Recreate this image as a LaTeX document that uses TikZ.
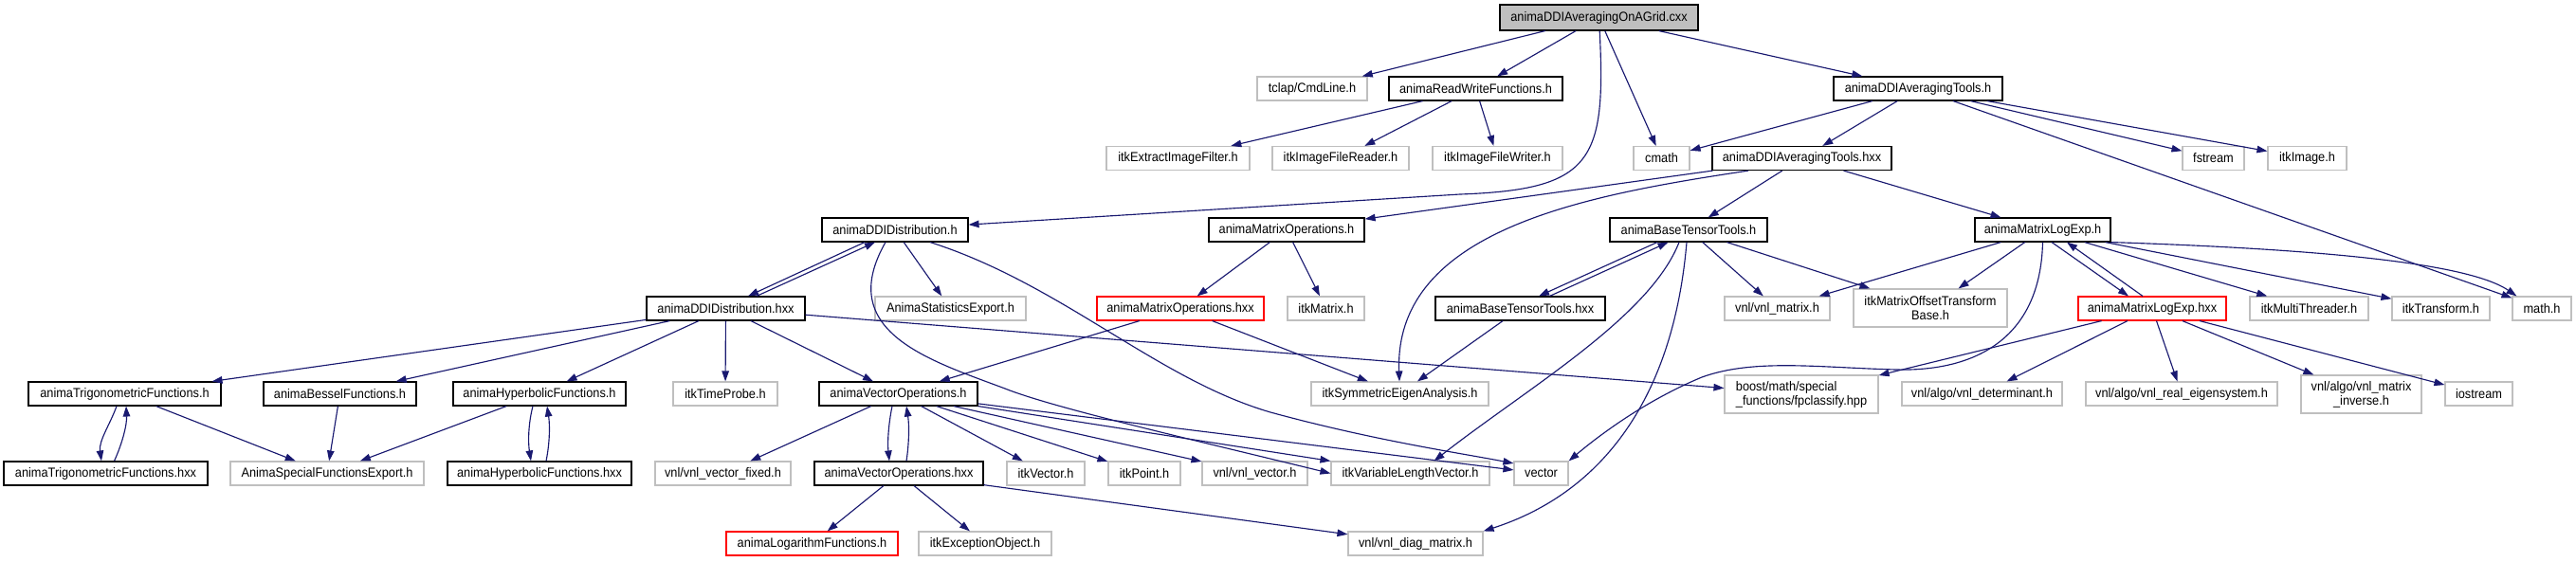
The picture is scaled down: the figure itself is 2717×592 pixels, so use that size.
\documentclass[tikz,border=0pt]{standalone}
\usepackage{fontspec}
\setmainfont{Liberation Sans}[FakeStretch=0.92]
\usepackage{xcolor}
\usetikzlibrary{arrows.meta}

\definecolor{edgeblue}{HTML}{191970}
\definecolor{extgray}{HTML}{BFBFBF}

\begin{document}
\begin{tikzpicture}[x=0.02cm, y=-0.02cm,
        % Define styles for the file boxes and the include arrows
        filebox/.style={rectangle, inner sep=0pt, minimum height=0.5cm, line width=0.65pt,
                        fill=white, font=\fontsize{7.9}{8.6}\selectfont},
        docnode/.style={filebox, draw=black},
        extnode/.style={filebox, draw=extgray},
        cutnode/.style={filebox, draw=red},
        mainnode/.style={filebox, draw=black, fill=extgray, minimum height=0.54cm},
        wd/.style={minimum width=#1*0.02cm},
        dep/.style={draw=edgeblue, line width=0.65pt, -{Triangle[length=0.22cm, width=0.15cm]}}]

        \useasboundingbox (0,0) rectangle (2717,592);

        % 1. The main file and the files it includes directly
        \node[mainnode, wd=209] (grid) at (1686.5,18.5) {animaDDIAveragingOnAGrid.cxx};
        \node[extnode, wd=116] (cmdline) at (1384,93.5) {tclap/CmdLine.h};
        \node[docnode, wd=183] (rwfunc) at (1556.5,93.5) {animaReadWriteFunctions.h};
        \node[docnode, wd=178] (avgtools) at (2023,93.5) {animaDDIAveragingTools.h};

        % 2. Second level
        \node[extnode, wd=151] (extract) at (1242.5,167) {itkExtractImageFilter.h};
        \node[extnode, wd=144] (freader) at (1414,167) {itkImageFileReader.h};
        \node[extnode, wd=137] (fwriter) at (1579.5,167) {itkImageFileWriter.h};
        \node[extnode, wd=59] (cmath) at (1752.5,167) {cmath};
        \node[docnode, wd=189] (avgtoolsx) at (1900.5,167) {animaDDIAveragingTools.hxx};
        \node[extnode, wd=65] (fstream) at (2334.5,167) {fstream};
        \node[extnode, wd=83] (itkimage) at (2433.5,167) {itkImage.h};

        % 3. Third level
        \node[docnode, wd=154] (ddidist) at (944,242.5) {animaDDIDistribution.h};
        \node[docnode, wd=164] (matops) at (1357,242.5) {animaMatrixOperations.h};
        \node[docnode, wd=166] (tensor) at (1781,242.5) {animaBaseTensorTools.h};
        \node[docnode, wd=143] (logexp) at (2154.5,242.5) {animaMatrixLogExp.h};

        % 4. Fourth level
        \node[docnode, wd=167] (ddidistx) at (765.5,325.5) {animaDDIDistribution.hxx};
        \node[extnode, wd=159] (statexp) at (1002.5,325.5) {AnimaStatisticsExport.h};
        \node[cutnode, wd=176] (matopsx) at (1245,325.5) {animaMatrixOperations.hxx};
        \node[extnode, wd=81] (itkmatrix) at (1398.5,325.5) {itkMatrix.h};
        \node[docnode, wd=179] (tensorx) at (1603.5,325.5) {animaBaseTensorTools.hxx};
        \node[extnode, wd=111] (vnlmatrix) at (1874.5,325.5) {vnl/vnl\_matrix.h};
        \node[extnode, wd=162, minimum height=0.8cm, align=center] (offset) at (2036,325) {itkMatrixOffsetTransform\\Base.h};
        \node[cutnode, wd=156] (logexpx) at (2270,325.5) {animaMatrixLogExp.hxx};
        \node[extnode, wd=125] (threader) at (2435.5,325.5) {itkMultiThreader.h};
        \node[extnode, wd=103] (transform) at (2574.5,325.5) {itkTransform.h};
        \node[extnode, wd=62] (mathh) at (2681,325.5) {math.h};

        % 5. Fifth level
        \node[docnode, wd=203] (trig) at (131.5,415.5) {animaTrigonometricFunctions.h};
        \node[docnode, wd=161] (bessel) at (358.5,415.5) {animaBesselFunctions.h};
        \node[docnode, wd=182] (hyper) at (569,415.5) {animaHyperbolicFunctions.h};
        \node[extnode, wd=110] (timeprobe) at (765,415.5) {itkTimeProbe.h};
        \node[docnode, wd=167] (vecops) at (947.5,415.5) {animaVectorOperations.h};
        \node[extnode, wd=187] (symeig) at (1476.5,415.5) {itkSymmetricEigenAnalysis.h};
        \node[extnode, wd=162, minimum height=0.8cm, align=left] (fpclass) at (1900,416) {boost/math/special\\\_functions/fpclassify.hpp};
        \node[extnode, wd=169] (determ) at (2090.5,415.5) {vnl/algo/vnl\_determinant.h};
        \node[extnode, wd=202] (realeig) at (2301,415.5) {vnl/algo/vnl\_real\_eigensystem.h};
        \node[extnode, wd=127, minimum height=0.8cm, align=center] (matinv) at (2490.5,416) {vnl/algo/vnl\_matrix\\\_inverse.h};
        \node[extnode, wd=71] (iostream) at (2614.5,415.5) {iostream};

        % 6. Sixth level
        \node[docnode, wd=215] (trigx) at (111.5,499.5) {animaTrigonometricFunctions.hxx};
        \node[extnode, wd=204] (specexp) at (345,499.5) {AnimaSpecialFunctionsExport.h};
        \node[docnode, wd=194] (hyperx) at (569,499.5) {animaHyperbolicFunctions.hxx};
        \node[extnode, wd=143] (vecfixed) at (762.5,499.5) {vnl/vnl\_vector\_fixed.h};
        \node[docnode, wd=178] (vecopsx) at (948,499.5) {animaVectorOperations.hxx};
        \node[extnode, wd=82] (itkvector) at (1103,499.5) {itkVector.h};
        \node[extnode, wd=76] (itkpoint) at (1207,499.5) {itkPoint.h};
        \node[extnode, wd=111] (vnlvector) at (1323.5,499.5) {vnl/vnl\_vector.h};
        \node[extnode, wd=167] (varlen) at (1487.5,499.5) {itkVariableLengthVector.h};
        \node[extnode, wd=57] (vector) at (1625.5,499.5) {vector};

        % 7. Bottom level
        \node[cutnode, wd=181] (logfunc) at (856.5,573.5) {animaLogarithmFunctions.h};
        \node[extnode, wd=140] (excobj) at (1039,573.5) {itkExceptionObject.h};
        \node[extnode, wd=142] (diagmat) at (1493,573.5) {vnl/vnl\_diag\_matrix.h};

        % 8. Includes of the main file
        \draw[dep] (grid) -- (cmdline);
        \draw[dep] (grid) -- (rwfunc);
        \draw[dep] (grid) .. controls (1694,170) and (1680,200) .. (1540,205) -- (ddidist.4);
        \draw[dep] (grid) -- (cmath);
        \draw[dep] (grid) -- (avgtools);

        \draw[dep] (rwfunc) -- (extract);
        \draw[dep] (rwfunc) -- (freader);
        \draw[dep] (rwfunc) -- (fwriter);

        \draw[dep] (avgtools) -- (cmath);
        \draw[dep] (avgtools) -- (avgtoolsx);
        \draw[dep] (avgtools) -- (fstream);
        \draw[dep] (avgtools) -- (itkimage);
        \draw[dep] (avgtools) -- (mathh);

        \draw[dep] (avgtoolsx) -- (matops);
        \draw[dep] ([xshift=-1.13cm]avgtoolsx.south) .. controls (1680,205) and (1470,240) .. (symeig);
        \draw[dep] (avgtoolsx) -- (tensor);
        \draw[dep] (avgtoolsx) -- (logexp);

        % 9. DDI distribution
        \draw[dep] ([xshift=-0.64cm]ddidist.south) -- ([xshift=0.47cm]ddidistx.north);
        \draw[dep] ([xshift=0.65cm]ddidistx.north) -- ([xshift=-0.42cm]ddidist.south);
        \draw[dep] (ddidist) -- (statexp);
        \draw[dep] ([xshift=-0.2cm]ddidist.south) .. controls (880,350) and (980,380) .. (1060,410)
                   .. controls (1110,430) and (1250,462) .. (varlen.west);
        \draw[dep] ([xshift=0.74cm]ddidist.south) .. controls (1120,300) and (1220,400) .. (1340,435)
                   .. controls (1450,465) and (1540,478) .. (vector.160);

        \draw[dep] (ddidistx) -- (trig);
        \draw[dep] (ddidistx) -- (bessel);
        \draw[dep] (ddidistx) -- (hyper);
        \draw[dep] (ddidistx) -- (timeprobe);
        \draw[dep] (ddidistx) -- (vecops);
        \draw[dep] (ddidistx) -- (fpclass);

        % 10. Matrix operations and tensor tools
        \draw[dep] (matops) -- (matopsx);
        \draw[dep] (matops) -- (itkmatrix);
        \draw[dep] (matopsx) -- (vecops);
        \draw[dep] (matopsx) -- (symeig);

        \draw[dep] ([xshift=-0.66cm]tensor.south) -- ([xshift=0.39cm]tensorx.north);
        \draw[dep] ([xshift=0.62cm]tensorx.north) -- ([xshift=-0.43cm]tensor.south);
        \draw[dep] (tensor) -- (vnlmatrix);
        \draw[dep] (tensor) -- (offset);
        \draw[dep] ([xshift=-0.2cm]tensor.south) .. controls (1740,335) and (1610,410) .. ([xshift=0.5cm]varlen.north);
        \draw[dep] ([xshift=-0.04cm]tensor.south) .. controls (1765,420) and (1690,520) .. (diagmat.north east);
        \draw[dep] (tensorx) -- (symeig);

        % 11. Matrix log / exp
        \draw[dep] ([xshift=0.19cm]logexp.south) -- ([xshift=-0.5cm]logexpx.north);
        \draw[dep] ([xshift=-0.2cm]logexpx.north) -- ([xshift=0.51cm]logexp.south);
        \draw[dep] (logexp) -- (vnlmatrix);
        \draw[dep] (logexp) -- (offset);
        \draw[dep] (logexp.south) .. controls (2152,360) and (2080,392) .. (2000,390)
                   .. controls (1920,388) and (1850,378) .. (1795,398)
                   .. controls (1730,425) and (1680,465) .. (vector.north east);
        \draw[dep] (logexp) -- (threader);
        \draw[dep] (logexp) -- (transform);
        \draw[dep] (logexp.south east) .. controls (2420,262) and (2600,275) .. ([xshift=0.1cm]mathh.north west);

        \draw[dep] (logexpx) -- (fpclass);
        \draw[dep] (logexpx) -- (determ);
        \draw[dep] (logexpx) -- (realeig);
        \draw[dep] (logexpx) -- (matinv);
        \draw[dep] (logexpx) -- (iostream);

        % 12. Special functions
        \draw[dep] ([xshift=-0.17cm]trig.south) .. controls (116,448) and (104,465) .. ([xshift=-0.09cm]trigx.north);
        \draw[dep] ([xshift=0.18cm]trigx.north) .. controls (129,468) and (134,448) .. ([xshift=0.03cm]trig.south);
        \draw[dep] (trig) -- (specexp);
        \draw[dep] (bessel) -- (specexp);
        \draw[dep] (hyper) -- (specexp);
        \draw[dep] ([xshift=-0.14cm]hyper.south) .. controls (557,448) and (557,467) .. ([xshift=-0.18cm]hyperx.north);
        \draw[dep] ([xshift=0.14cm]hyperx.north) .. controls (580,467) and (580,448) .. ([xshift=0.16cm]hyper.south);

        % 13. Vector operations
        \draw[dep] ([xshift=-0.13cm]vecops.south) .. controls (937,448) and (936,467) .. ([xshift=-0.2cm]vecopsx.north);
        \draw[dep] ([xshift=0.16cm]vecopsx.north) .. controls (959,467) and (959,448) .. ([xshift=0.17cm]vecops.south);
        \draw[dep] (vecops) -- (vecfixed);
        \draw[dep] (vecops) -- (itkvector);
        \draw[dep] (vecops) -- (itkpoint);
        \draw[dep] (vecops) -- (vnlvector);
        \draw[dep] (vecops) -- (varlen);
        \draw[dep] (vecops) -- (vector);

        \draw[dep] (vecopsx) -- (logfunc);
        \draw[dep] (vecopsx) -- (excobj);
        \draw[dep] (vecopsx) -- (diagmat);

    \end{tikzpicture}
\end{document}
